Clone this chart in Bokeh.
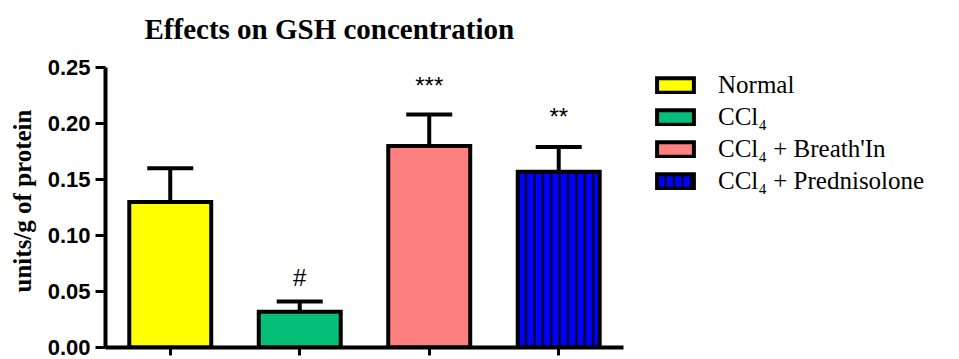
from bokeh.plotting import figure
from bokeh.models import (Range1d, FixedTicker, Whisker, TeeHead,
                          ColumnDataSource, Legend, LegendItem, NumeralTickFormatter)
from bokeh.core.properties import value
from bokeh.embed import file_html
from bokeh.resources import INLINE

# ---- data ----
categories = ["Normal", "CCl\u2084", "CCl\u2084 + Breath'In", "CCl\u2084 + Prednisolone"]
means = [0.130, 0.032, 0.180, 0.157]
sems = [0.030, 0.009, 0.028, 0.022]
significance = ["", "#", "***", "**"]
y_ticks = [0.00, 0.05, 0.10, 0.15, 0.20, 0.25]

# ---- styles ----
fill_colors = ["#FFFF00", "#05BF78", "#FF8080", "#0000FF"]
hatches = [None, None, None, "|"]
sig_nudge_px = [0, -4, -9, -10]   # small visual nudges of the significance marks
SERIF = "Liberation Serif"
SANS = "Liberation Sans"

# category slots on a numeric scale: slot i centred at i + 0.5
xpos = [i + 0.5 for i in range(len(categories))]

p = figure(width=959, height=359, x_range=Range1d(0, 6.595), y_range=Range1d(0, 0.2616),
           output_backend="svg", toolbar_location=None,
           min_border_left=105, min_border_right=0, min_border_top=53, min_border_bottom=12)

p.title.text = "Effects on GSH concentration"
p.title.text_font = SERIF
p.title.text_font_size = "29px"
p.title.text_font_style = "bold"
p.title.text_color = "black"
p.title.align = "left"
p.title.offset = 39
p.title.standoff = 20

p.outline_line_color = None
p.xgrid.grid_line_color = None
p.ygrid.grid_line_color = None

renderers = []
for i, cat in enumerate(categories):
    kw = {}
    if hatches[i]:
        kw = dict(hatch_pattern=hatches[i], hatch_color="black", hatch_scale=8.4, hatch_weight=2)
    r = p.vbar(x=[xpos[i]], top=[means[i]], bottom=0, width=0.633, fill_color=fill_colors[i],
               line_color="black", line_width=4, line_join="miter", **kw)
    renderers.append(r)

err_src = ColumnDataSource(dict(base=xpos,
                                lower=means,
                                upper=[m + s for m, s in zip(means, sems)]))
whisk = Whisker(base="base", lower="lower", upper="upper", source=err_src,
                line_width=4, line_color="black",
                upper_head=TeeHead(size=46, line_width=4, line_color="black"),
                lower_head=None)
p.add_layout(whisk)

idx = [i for i, s in enumerate(significance) if s]
ann_src = ColumnDataSource(dict(x=[xpos[i] for i in idx],
                                y=[means[i] + sems[i] + 0.018 for i in idx],
                                t=[significance[i] for i in idx],
                                dy=[sig_nudge_px[i] for i in idx]))
p.text(x="x", y="y", text="t", y_offset="dy", source=ann_src, text_align="center",
       text_baseline="alphabetic", text_font=value(SANS), text_font_size="24px",
       text_color="black")

# y axis
ya = p.yaxis[0]
ya.ticker = FixedTicker(ticks=y_ticks)
ya.bounds = (y_ticks[0], y_ticks[-1])
ya.formatter = NumeralTickFormatter(format="0.00")
ya.axis_line_width = 4
ya.major_tick_line_width = 3
ya.major_tick_out = 10
ya.major_tick_in = 0
ya.minor_tick_out = 0
ya.minor_tick_in = 0
ya.major_label_standoff = 5
ya.major_label_text_font = SANS
ya.major_label_text_font_style = "bold"
ya.major_label_text_font_size = "22px"
ya.major_label_text_color = "black"
ya.axis_label = "units/g of protein"
ya.axis_label_text_font = SERIF
ya.axis_label_text_font_style = "bold"
ya.axis_label_text_font_size = "25px"
ya.axis_label_text_color = "black"
ya.axis_label_standoff = 9

# x axis: one tick per category slot, no labels
xa = p.xaxis[0]
xa.ticker = FixedTicker(ticks=xpos)
xa.bounds = (0, len(categories))
xa.axis_line_width = 4
xa.major_tick_line_width = 3
xa.major_tick_out = 8
xa.major_tick_in = 0
xa.minor_tick_out = 0
xa.minor_tick_in = 0
xa.major_label_overrides = {x: "" for x in xpos}
xa.major_label_text_font_size = "1px"
xa.major_label_standoff = 0

legend = Legend(items=[LegendItem(label=c, renderers=[r]) for c, r in zip(categories, renderers)],
                location=(547, 152), padding=0, margin=0, border_line_alpha=0,
                background_fill_alpha=0, glyph_width=46, glyph_height=18,
                label_height=28, label_standoff=20, spacing=4, label_text_font=SERIF,
                label_text_font_size="25px", label_text_color="black")
p.add_layout(legend)

open("out.html", "w").write(file_html(p, INLINE))
